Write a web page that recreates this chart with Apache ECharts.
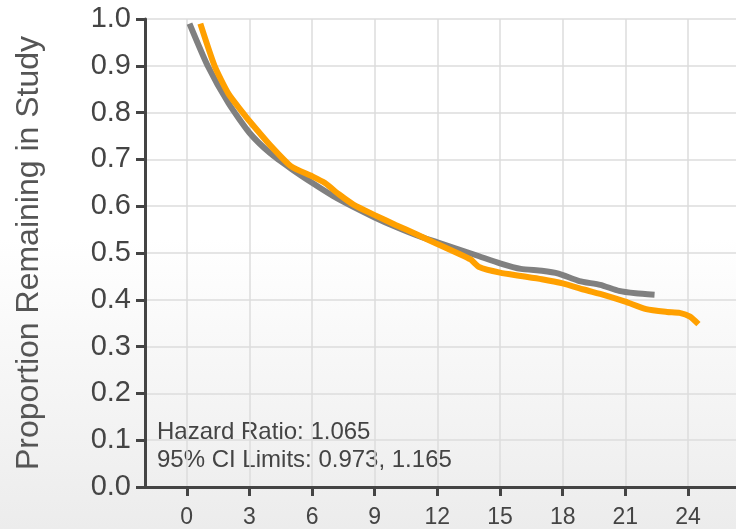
<!DOCTYPE html>
<html>
<head>
<meta charset="utf-8">
<script src="https://cdn.jsdelivr.net/npm/echarts@6/dist/echarts.min.js"></script>
<style>
html,body{margin:0;padding:0;}
#c{width:736px;height:529px;background:linear-gradient(to bottom,#ffffff 0%,#ffffff 45%,#ececec 100%);}
</style>
</head>
<body>
<div id="c"></div>
<script>
const xTicks = [0, 3, 6, 9, 12, 15, 18, 21, 24];
const yTicks = [0, 0.1, 0.2, 0.3, 0.4, 0.5, 0.6, 0.7, 0.8, 0.9, 1.0];
const grayTime = [0.13, 1, 2, 3, 4, 5, 6, 7, 8, 9, 10, 11, 12, 13, 14, 15, 16, 17, 17.8, 18.8, 19.8, 20.7, 21.5, 22.4];
const grayVal  = [0.99, 0.90, 0.82, 0.757, 0.713, 0.68, 0.65, 0.622, 0.598, 0.576, 0.556, 0.538, 0.523, 0.508, 0.493, 0.478, 0.466, 0.462, 0.456, 0.44, 0.432, 0.419, 0.414, 0.411];
const orangeTime = [0.65, 1.33, 2, 2.68, 3, 4, 5, 6, 6.6, 7.3, 8, 9, 10, 11, 12, 13, 13.6, 14, 15, 16, 17, 18, 19, 20, 21, 22, 23, 23.6, 24.1, 24.5];
const orangeVal  = [0.99, 0.90, 0.84, 0.80, 0.782, 0.73, 0.685, 0.664, 0.65, 0.625, 0.603, 0.581, 0.56, 0.54, 0.519, 0.499, 0.486, 0.47, 0.458, 0.451, 0.444, 0.435, 0.422, 0.41, 0.396, 0.38, 0.374, 0.372, 0.364, 0.348];
const annotation = ['Hazard Ratio: 1.065', '95% CI Limits: 0.973, 1.165'];
const yName = 'Proportion Remaining in Study';

const toPairs = (xs, ys) => xs.map((x, i) => [x, ys[i]]);
const chart = echarts.init(document.getElementById('c'), null, {renderer: 'canvas'});
const FONT = '"Liberation Sans", Arial, Helvetica, sans-serif';
chart.setOption({
  animation: false,
  grid: {left: 145, right: 0, top: 19, bottom: 42, containLabel: false},
  xAxis: {
    type: 'value', min: -2, max: 26.3,
    axisLine: {show: true, onZero: false, lineStyle: {color: '#444', width: 3}},
    axisTick: {show: true, length: 9, customValues: xTicks, lineStyle: {color: '#444', width: 3}},
    axisLabel: {customValues: xTicks, color: '#444', fontSize: 23, fontFamily: FONT, margin: 19},
    splitLine: {show: true, lineStyle: {color: '#dddddd', width: 1.5}}
  },
  yAxis: {
    type: 'value', min: 0, max: 1, interval: 0.1,
    name: yName, nameLocation: 'middle', nameGap: 100, nameRotate: 90,
    nameTextStyle: {color: '#555', fontSize: 32, fontFamily: FONT},
    axisLine: {show: true, onZero: false, lineStyle: {color: '#444', width: 3}},
    axisTick: {show: true, inside: false, length: 9, lineStyle: {color: '#444', width: 3}},
    axisLabel: {color: '#444', fontSize: 29, fontFamily: FONT, margin: 14, formatter: v => v.toFixed(1)},
    splitLine: {show: true, lineStyle: {color: '#dddddd', width: 1.5}}
  },
  graphic: [{
    type: 'text', left: 157, top: 418,
    style: {text: annotation.join('\n'), fill: '#444', fontSize: 24, fontFamily: FONT, lineHeight: 28}
  }],
  series: [
    {type: 'line', data: toPairs(grayTime, grayVal), showSymbol: false, smooth: 0.2,
     lineStyle: {color: '#808080', width: 6}, z: 2},
    {type: 'line', data: toPairs(orangeTime, orangeVal), showSymbol: false, smooth: 0.2,
     lineStyle: {color: '#ffa000', width: 6}, z: 3}
  ]
});
</script>
</body>
</html>
